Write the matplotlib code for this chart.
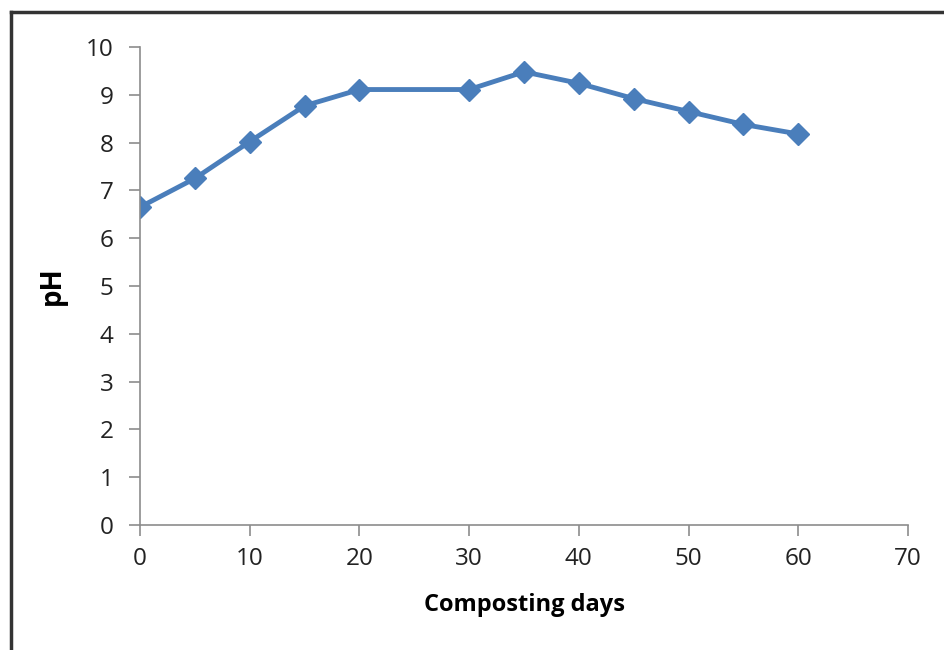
import numpy as np
import matplotlib.pyplot as plt
from matplotlib.lines import Line2D

days = [0, 5, 10, 15, 20, 30, 35, 40, 45, 50, 55, 60]
ph = [6.65, 7.25, 8.02, 8.77, 9.11, 9.11, 9.48, 9.24, 8.92, 8.65, 8.38, 8.18]

plt.rcParams['font.family'] = ['Open Sans', 'DejaVu Sans']

fig = plt.figure(figsize=(9.44, 6.5), dpi=100)
ax = fig.add_axes([0.1483, 0.1923, 0.8136, 0.7354])

ax.plot(days, ph, color="#4a7ebb", lw=3.5, marker="D", markersize=11.5,
        markeredgecolor="#4a7ebb", solid_joinstyle="round")

ax.set_xlim(0, 70)
ax.set_ylim(0, 10)
ax.set_xticks(np.arange(0, 71, 10))
ax.set_yticks(np.arange(0, 11, 1))
for s in ["top", "right"]:
    ax.spines[s].set_visible(False)
for s in ["left", "bottom"]:
    ax.spines[s].set_color("#8c8c8c")
    ax.spines[s].set_linewidth(1.2)
ax.tick_params(which="both", direction="out", length=8, width=1.2, color="#8c8c8c",
               labelsize=17.5, labelcolor="#222222")
ax.tick_params(axis="y", pad=11)
ax.tick_params(axis="x", pad=8)
ax.set_xlabel("Composting days", fontsize=17, fontweight="bold", labelpad=16)
ax.set_ylabel("pH", fontsize=20, fontweight="bold", labelpad=14)

# frame around the figure (top and left edges)
fig.add_artist(Line2D([0.012, 0.012], [0.0, 0.982], color="#333333", lw=2.5))
fig.add_artist(Line2D([0.012, 1.0], [0.982, 0.982], color="#333333", lw=2.5))

fig.savefig("out.png", dpi=100)
